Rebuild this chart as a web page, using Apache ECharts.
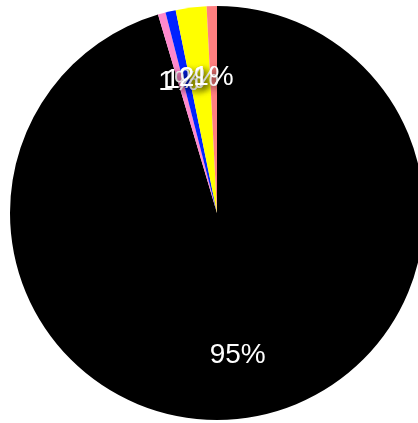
<!DOCTYPE html>
<html><head><meta charset="utf-8">
<script src="https://cdn.jsdelivr.net/npm/echarts@6/dist/echarts.min.js"></script>
<style>html,body{margin:0;padding:0;background:#fff}#c{width:418px;height:423px}</style>
</head><body><div id="c"></div>
<script>
const categories = ['A', 'B', 'C', 'D', 'E'];
const values = [95.4, 0.6, 0.8, 2.4, 0.8];
const colors = ['#000000', '#ff88cc', '#0022ff', '#ffff00', '#ff7f7f'];

const data = categories.map((c, i) => ({ name: c, value: values[i], itemStyle: { color: colors[i] } }));
const chart = echarts.init(document.getElementById('c'));
chart.setOption({
  animation: false,
  series: [
    {
      type: 'pie', center: [217, 213], radius: 207, startAngle: 90, clockwise: true,
      data: data, label: { show: false }, labelLine: { show: false },
      itemStyle: { borderWidth: 0 }, emphasis: { disabled: true }
    },
    {
      type: 'pie', center: [217, 213], radius: [75, 207], startAngle: 90, clockwise: true,
      avoidLabelOverlap: false, minShowLabelAngle: 0,
      labelLayout: function (p) { return p.dataIndex === 0 ? { hideOverlap: false } : { dy: 8, hideOverlap: false }; },
      data: categories.map((c, i) => ({ name: c, value: values[i] })),
      itemStyle: { color: 'rgba(0,0,0,0)', borderWidth: 0 },
      labelLine: { show: false }, emphasis: { disabled: true },
      label: {
        show: true, position: 'inside', color: '#fff', fontSize: 28,
        fontFamily: 'Liberation Sans, Arial, sans-serif',
        textShadowColor: 'rgba(0,0,0,0.6)', textShadowBlur: 6, textShadowOffsetX: 3, textShadowOffsetY: 3,
        formatter: p => Math.round(p.percent) + '%'
      }
    }
  ]
});
</script></body></html>
